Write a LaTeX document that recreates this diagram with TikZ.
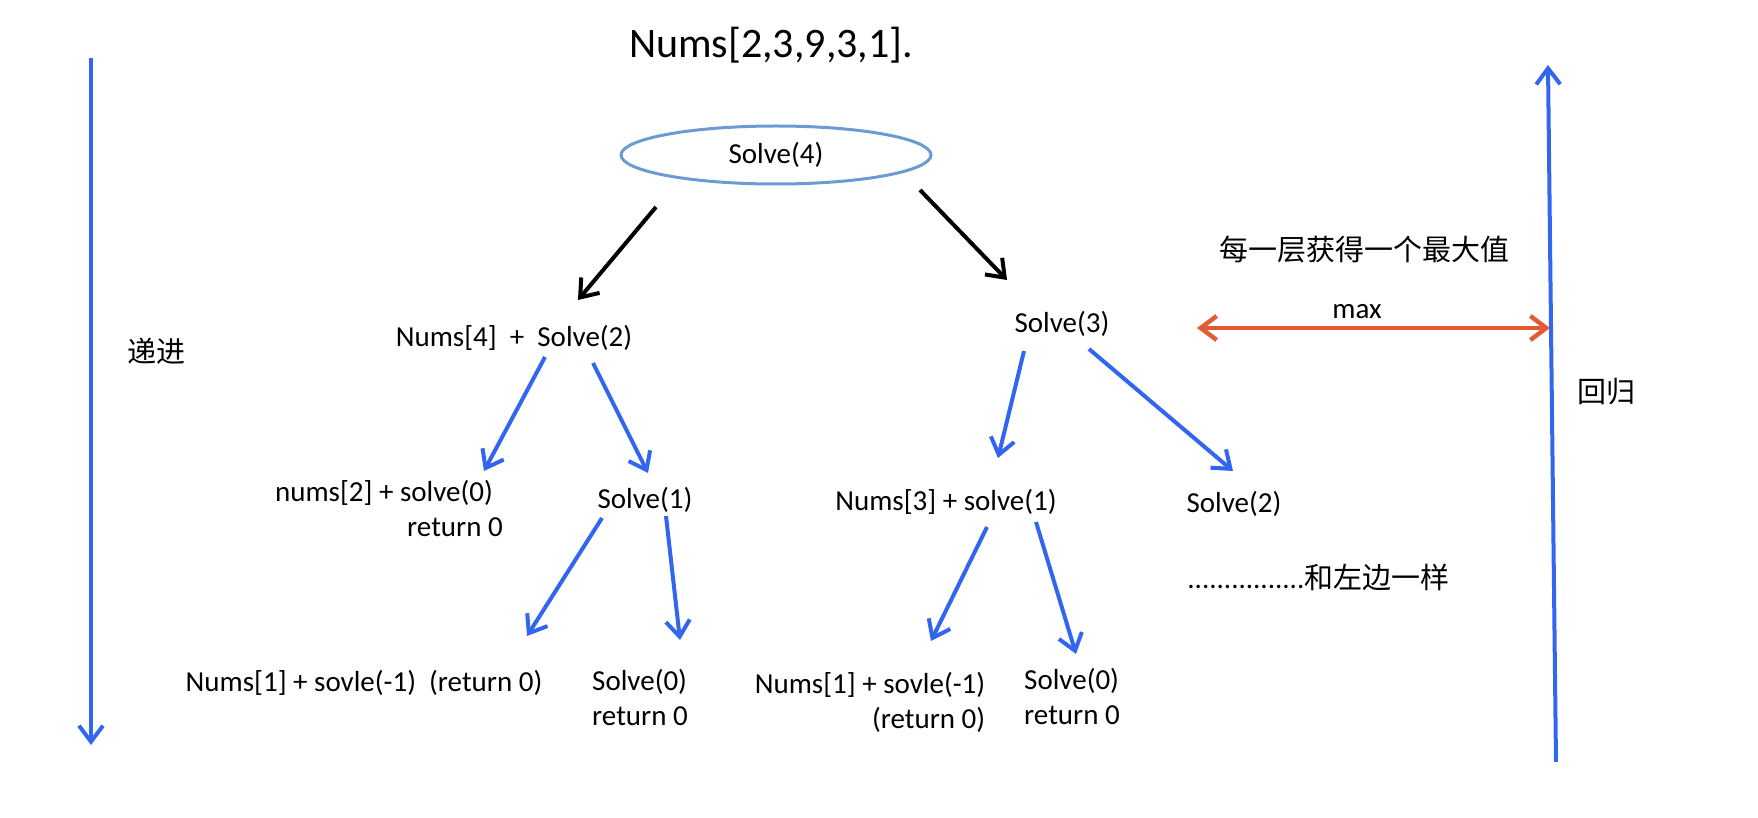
\documentclass[tikz,border=0pt]{standalone}
\usepackage{fontspec}
\setmainfont{Carlito}
\newfontfamily\cjk{Noto Sans CJK SC}
\usepackage{xcolor}
\usepackage{tikz}
\usetikzlibrary{shapes.geometric, positioning, arrows.meta}

\definecolor{ellblue}{RGB}{108,155,210}
\definecolor{callblue}{RGB}{51,102,240}
\definecolor{maxred}{RGB}{224,90,50}

\begin{document}
\begin{tikzpicture}[
	  x=0.5pt, y=-0.5pt,
	  font=\fontsize{14.5}{17.5}\selectfont,
	  call/.style={inner sep=0pt, align=center},
	  titletext/.style={call, font=\fontsize{21}{25}\selectfont},
	  rootcall/.style={call, ellipse, draw=ellblue, line width=1.5pt, minimum width=155pt, minimum height=29pt},
	  side/.style={call, font=\fontsize{14.5}{17.5}\selectfont\cjk},
	  blackarrow/.style={-{Straight Barb[length=8pt,width=12pt]}, line width=2pt, black},
	  bluearrow/.style={-{Straight Barb[length=8pt,width=12pt]}, line width=2pt, callblue},
	  redarrow/.style={{Straight Barb[length=8pt,width=12pt]}-{Straight Barb[length=8pt,width=12pt]}, line width=2.2pt, maxred}
	]
	\useasboundingbox (0,0) rectangle (1758,818);

	% --- title and root ---
	\node[titletext] (title) at (771,45) {Nums[2,3,9,3,1].};
	\node[rootcall] (s4) at (776,155) {Solve(4)};

	% --- level 1 ---
	\node[call] (sum4) at (514,338) {Nums[4]\ \ +\ \ Solve(2)};
	\node[call] (s3) at (1062,324) {Solve(3)};

	% --- level 2 ---
	\node[call] (nums2) at (384,493) {nums[2] + solve(0)};
	\node[call] (ret2) at (455,527) {return 0};
	\node[call] (s1) at (645,500) {Solve(1)};
	\node[call] (sum3) at (946,502) {Nums[3] + solve(1)};
	\node[call] (s2r) at (1234,504) {Solve(2)};
	\node[call, anchor=west] (same) at (1187,577) {................{\cjk 和左边一样}};

	% --- level 3 ---
	\node[call] (n1l) at (364,683) {Nums[1] + sovle(-1)\ \ (return 0)};
	\node[call, align=left] (s0l) at (640,697) {Solve(0)\\return 0};
	\node[call, align=right] (n1r) at (870,702) {Nums[1] + sovle(-1)\\(return 0)};
	\node[call, align=left] (s0r) at (1072,696) {Solve(0)\\return 0};

	% --- side notes ---
	\node[side] (dijin) at (156,351) {递进};
	\node[side] (huigui) at (1606,392) {回归};
	\node[side] (maxnote) at (1364,250) {每一层获得一个最大值};
	\node[call] (maxtxt) at (1357,312) {max};

	\coordinate (downtop) at (91,58);
	\coordinate (downend) at (91,745);
	\coordinate (upstart) at (1556,762);
	\coordinate (uptop) at (1548,65);
	\coordinate (maxl) at (1197,328);
	\coordinate (maxr) at (1550,328);

	% --- flows ---
	\draw[blackarrow] ([shift={(-120,52)}]s4.center) -- ([shift={(64,-38)}]sum4.center);
	\draw[blackarrow] ([shift={(144,35)}]s4.center) -- ([shift={(-55,-44)}]s3.center);

	\draw[bluearrow] ([shift={(31,19)}]sum4.center) -- ([shift={(100,-22)}]nums2.center);
	\draw[bluearrow] ([shift={(79,25)}]sum4.center) -- ([shift={(3,-27)}]s1.center);
	\draw[bluearrow] ([shift={(-43,18)}]s1.center) -- ([shift={(163,-47)}]n1l.center);
	\draw[bluearrow] ([shift={(21,16)}]s1.center) -- ([shift={(40,-57)}]s0l.center);

	\draw[bluearrow] ([shift={(-38,27)}]s3.center) -- ([shift={(52,-44)}]sum3.center);
	\draw[bluearrow] ([shift={(27,25)}]s3.center) -- ([shift={(-1,-33)}]s2r.center);
	\draw[bluearrow] ([shift={(41,25)}]sum3.center) -- ([shift={(61,-61)}]n1r.center);
	\draw[bluearrow] ([shift={(90,20)}]sum3.center) -- ([shift={(4,-42)}]s0r.center);

	\draw[bluearrow] (downtop) -- (downend);
	\draw[bluearrow] (upstart) -- (uptop);
	\draw[redarrow] (maxl) -- (maxr);

\end{tikzpicture}
\end{document}
